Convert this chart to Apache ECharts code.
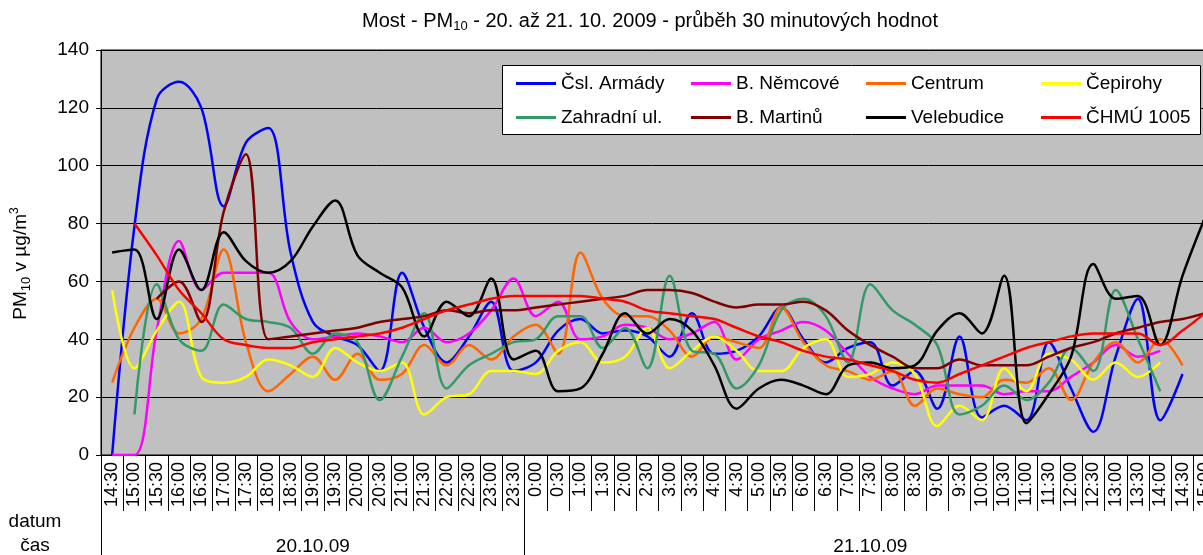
<!DOCTYPE html>
<html>
<head>
<meta charset="utf-8">
<script src="https://cdn.jsdelivr.net/npm/echarts@6/dist/echarts.min.js"></script>
<style>
  html, body { margin: 0; padding: 0; background: #fff; }
  #chart { width: 1203px; height: 555px; }
</style>
</head>
<body>
<div id="chart"></div>
<script>
  const font = "'Liberation Sans', Arial, sans-serif";

  const times = [
    '14:30', '15:00', '15:30', '16:00', '16:30', '17:00', '17:30', '18:00', '18:30', '19:00',
    '19:30', '20:00', '20:30', '21:00', '21:30', '22:00', '22:30', '23:00', '23:30',
    '0:00', '0:30', '1:00', '1:30', '2:00', '2:30', '3:00', '3:30', '4:00', '4:30', '5:00',
    '5:30', '6:00', '6:30', '7:00', '7:30', '8:00', '8:30', '9:00', '9:30', '10:00',
    '10:30', '11:00', '11:30', '12:00', '12:30', '13:00', '13:30', '14:00', '14:30', '15:00'
  ];

  // 30 min PM10 values per station
  const stations = [
    {name: 'Čsl. Armády', color: '#0000FF', data: [
      0, 79, 123, 129, 120, 86, 108, 113, 70, 46, 41, 38, 29, 63, 44, 32, 41, 53, 29,
      32, 43, 47, 42, 43, 41, 34, 49, 35, 36, 41, 51, 40, 32, 37, 39, 24, 29, 16, 41, 13,
      17, 12, 39, 23, 8, 34, 54, 12, 28, null]},
    {name: 'B. Němcové', color: '#FF00FF', data: [
      0, 0, 43, 74, 57, 63, 63, 63, 46, 40, 41, 42, 41, 39, 44, 39, 42, 50, 61,
      48, 53, 40, 41, 45, 44, 40, 42, 46, 33, 40, 43, 46, 43, 35, 27, 23, 21, 24, 24, 24,
      21, 22, 22, 27, 32, 38, 34, 36, null, null]},
    {name: 'Centrum', color: '#FF6600', data: [
      25, 44, 54, 42, 47, 71, 39, 22, 28, 34, 26, 35, 26, 28, 38, 31, 38, 33, 41,
      45, 35, 70, 54, 48, 48, 43, 34, 41, 39, 37, 51, 39, 31, 29, 26, 29, 17, 23, 21, 20,
      26, 25, 30, 19, 32, 39, 32, 40, 31, null]},
    {name: 'Čepirohy', color: '#FFFF00', data: [
      57, 30, 43, 53, 27, 25, 27, 33, 31, 27, 37, 32, 29, 32, 14, 20, 21, 29, 29,
      28, 36, 39, 32, 34, 44, 30, 36, 41, 36, 29, 29, 37, 40, 27, 28, 32, 28, 10, 17, 12,
      30, 22, 35, 33, 26, 32, 27, 32, null, null]},
    {name: 'Zahradní ul.', color: '#339966', data: [
      null, 14, 59, 40, 36, 52, 47, 46, 44, 35, 42, 39, 19, 34, 49, 23, 31, 35, 39,
      40, 48, 48, 37, 44, 30, 62, 36, 35, 23, 31, 50, 54, 48, 32, 59, 50, 45, 38, 14, 17,
      24, 19, 25, 37, 29, 57, 40, 22, null, null]},
    {name: 'B. Martinů', color: '#800000', data: [
      null, null, 54, 60, 46, 84, 104, 40, 41, 42, 43, 44, 46, 47, 48, 50, 49, 50, 50,
      51, 52, 53, 54, 55, 57, 57, 56, 53, 51, 52, 52, 53, 50, 43, 38, 34, 30, 30, 33, 31,
      31, 31, 34, 37, 39, 42, 44, 46, 47, 49]},
    {name: 'Velebudice', color: '#000000', data: [
      70, 71, 47, 71, 57, 77, 67, 63, 67, 79, 88, 69, 63, 58, 41, 53, 48, 61, 33,
      36, 22, 23, 35, 49, 42, 47, 43, 31, 16, 23, 26, 24, 21, 31, 32, 30, 31, 43, 49, 42,
      62, 11, 21, 34, 66, 54, 55, 38, 62, 82]},
    {name: 'ČHMÚ 1005', color: '#FF0000', data: [
      null, 80, 69, 57, 49, 40, 38, 37, 37, 39, 40, 41, 42, 44, 47, 50, 52, 54, 55,
      55, 55, 55, 54, 53, 50, 49, 48, 47, 44, 41, 39, 36, 34, 33, 31, 29, 26, 25, 28, 31,
      34, 37, 39, 41, 42, 42, 42, 38, 43, 49]}
  ];

  const legendCols = [516, 691, 866, 1041];
  const legendRows = [74, 108];

  const chart = echarts.init(document.getElementById('chart'));
  chart.setOption({
    animation: false,
    textStyle: {fontFamily: font, color: '#000'},
    grid: {
      left: 101, top: 50, width: 1115, height: 405,
      outerBoundsMode: 'none',
      containLabel: false,
      show: true, backgroundColor: '#C0C0C0', borderColor: '#000', borderWidth: 1
    },
    legend: stations.map((s, i) => ({
      data: [s.name],
      left: legendCols[i % 4],
      top: legendRows[Math.floor(i / 4)],
      padding: 0,
      icon: 'rect',
      itemWidth: 40,
      itemHeight: 3,
      z: 6,
      textStyle: {fontSize: 19, fontFamily: font, color: '#000'}
    })),
    xAxis: [
      {
        type: 'category',
        data: times,
        boundaryGap: true,
        axisLine: {lineStyle: {color: '#000', width: 1}},
        axisTick: {show: true, interval: 0, length: 56, lineStyle: {color: '#000'}},
        axisLabel: {interval: 0, rotate: 90, margin: 7, fontSize: 18, color: '#000', fontFamily: font}
      },
      {
        type: 'category',
        data: times,
        position: 'bottom',
        boundaryGap: true,
        axisLine: {show: false},
        axisTick: {
          show: true, length: 100, lineStyle: {color: '#000'},
          interval: (i) => i === 0 || i === 19
        },
        axisLabel: {
          interval: 0, margin: 82, fontSize: 19, color: '#000', fontFamily: font,
          formatter: (v, i) => i === 9 ? '20.10.09' : (i === 34 ? '21.10.09' : '')
        },
        splitLine: {show: false}
      }
    ],
    yAxis: {
      type: 'value',
      min: 0, max: 140, interval: 20,
      axisLine: {show: true, lineStyle: {color: '#000'}},
      axisTick: {show: true, length: 5, lineStyle: {color: '#000'}},
      axisLabel: {fontSize: 19, color: '#000', margin: 12, fontFamily: font},
      splitLine: {lineStyle: {color: '#000', width: 1}},
      name: 'PM{sub|10} v µg/m{sup|3}',
      nameLocation: 'middle',
      nameRotate: 90,
      nameGap: 68,
      nameTextStyle: {
        fontSize: 19, color: '#000', fontFamily: font, lineHeight: 24,
        padding: [0, 22, 0, 0],
        rich: {
          sub: {fontSize: 13, verticalAlign: 'bottom', lineHeight: 20, fontFamily: font},
          sup: {fontSize: 12, verticalAlign: 'top', lineHeight: 24, fontFamily: font}
        }
      }
    },
    graphic: [
      {
        type: 'rect', z: 5,
        shape: {x: 502.5, y: 65.5, width: 698, height: 69},
        style: {fill: '#fff', stroke: '#000', lineWidth: 1}
      },
      {
        type: 'text', x: 650, y: 21, z: 5,
        style: {
          text: 'Most - PM{s|10} - 20. až 21. 10. 2009 - průběh 30 minutových hodnot',
          fontSize: 20, fontFamily: font, fill: '#000', align: 'center', verticalAlign: 'middle',
          rich: {s: {fontSize: 13, verticalAlign: 'bottom', lineHeight: 24, fontFamily: font}}
        }
      },
      {
        type: 'text', x: 35, y: 522, z: 5,
        style: {text: 'datum', fontSize: 19, fontFamily: font, fill: '#000', align: 'center', verticalAlign: 'middle'}
      },
      {
        type: 'text', x: 35, y: 546, z: 5,
        style: {text: 'čas', fontSize: 19, fontFamily: font, fill: '#000', align: 'center', verticalAlign: 'middle'}
      }
    ],
    series: stations.map(s => ({
      name: s.name,
      type: 'line',
      data: s.data,
      smooth: 0.35,
      symbol: 'none',
      connectNulls: false,
      lineStyle: {width: 2.5, color: s.color},
      itemStyle: {color: s.color}
    }))
  });
</script>
</body>
</html>
